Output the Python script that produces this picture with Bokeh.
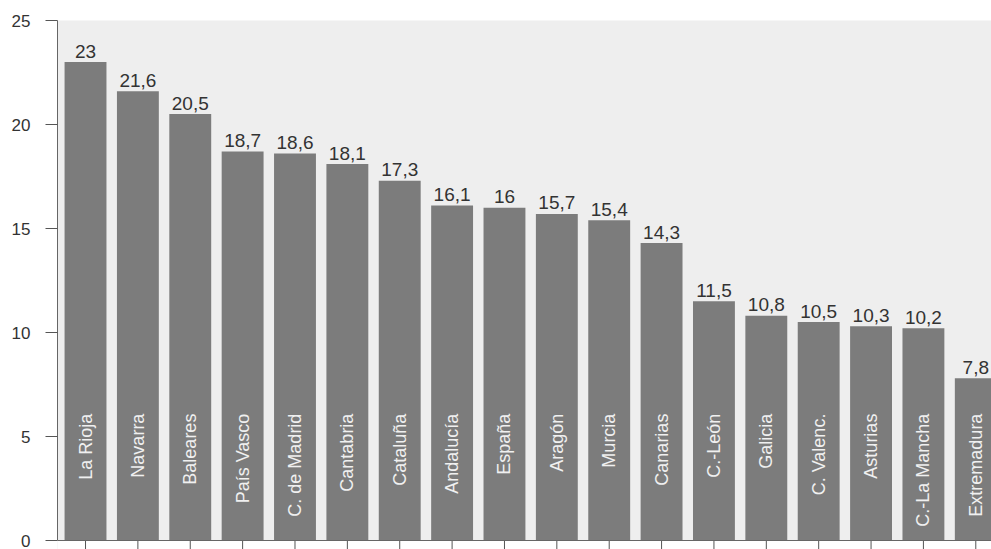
import math
from bokeh.plotting import figure
from bokeh.models import ColumnDataSource, Range1d, FixedTicker, Span, BoxAnnotation
from bokeh.core.properties import value
from bokeh.embed import file_html
from bokeh.resources import INLINE

regions = ["La Rioja", "Navarra", "Baleares", "País Vasco", "C. de Madrid", "Cantabria",
           "Cataluña", "Andalucía", "España", "Aragón", "Murcia", "Canarias",
           "C.-León", "Galicia", "C. Valenc.", "Asturias", "C.-La Mancha", "Extremadura"]
values = [23, 21.6, 20.5, 18.7, 18.6, 18.1, 17.3, 16.1, 16, 15.7, 15.4, 14.3,
          11.5, 10.8, 10.5, 10.3, 10.2, 7.8]
value_labels = ["23", "21,6", "20,5", "18,7", "18,6", "18,1", "17,3", "16,1", "16",
                "15,7", "15,4", "14,3", "11,5", "10,8", "10,5", "10,3", "10,2", "7,8"]
y_ticks = [0, 5, 10, 15, 20, 25]

xs = list(range(len(regions)))
Y_BELOW = -9 / 20.8  # room below zero for the category tick marks
src = ColumnDataSource(dict(x=xs, top=values, lab=value_labels, name=regions,
                            name_y=[6.1] * len(regions),
                            t0=[0] * len(regions), t1=[Y_BELOW] * len(regions)))

FONT = "Liberation Sans"

p = figure(width=991, height=549, output_backend="svg", toolbar_location=None,
           x_range=Range1d(-0.535, 17.3), y_range=Range1d(Y_BELOW, 25),
           min_border_left=57, min_border_right=0, min_border_top=20, min_border_bottom=0)
p.background_fill_color = "#eeeeee"
p.border_fill_color = "white"
p.outline_line_color = None
p.grid.visible = False
p.xaxis.visible = False

# white strip below the zero line
p.add_layout(BoxAnnotation(top=0, fill_color="white", fill_alpha=1.0,
                           line_color=None, level="underlay"))

p.vbar(x="x", top="top", width=0.8, bottom=0, source=src,
       fill_color="#7c7c7c", line_color=None)

# baseline and category tick marks
p.add_layout(Span(location=0, dimension="width", line_color="#666666", line_width=1))
p.segment(x0="x", y0="t0", x1="x", y1="t1", source=src, line_color="#555555", line_width=1)

p.text(x="x", y="top", text="lab", source=src, text_align="center",
       text_baseline="alphabetic", y_offset=-11,
       text_font=value(FONT), text_font_size="19px", text_color="#333333")

p.text(x="x", y="name_y", text="name", source=src, angle=math.pi / 2,
       text_align="right", text_baseline="middle",
       text_font=value(FONT), text_font_size="18px", text_color="#f0f0f0")

p.yaxis.ticker = FixedTicker(ticks=y_ticks)
p.yaxis.bounds = (0, 25)
p.yaxis.major_tick_out = 12
p.yaxis.major_tick_in = 0
p.yaxis.minor_tick_line_color = None
p.yaxis.major_label_standoff = 15
p.yaxis.major_label_text_font = FONT
p.yaxis.major_label_text_font_size = "17px"
p.yaxis.major_label_text_color = "#333333"
p.yaxis.axis_line_color = "#666666"
p.yaxis.major_tick_line_color = "#555555"

open("out.html", "w").write(file_html(p, INLINE))
